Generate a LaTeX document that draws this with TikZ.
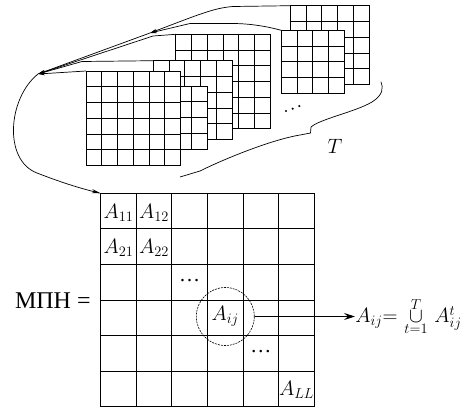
\documentclass[tikz,border=0pt]{standalone}
\usepackage{fontspec}
\setmainfont{Liberation Serif}
\usetikzlibrary{arrows.meta}
\newcommand\gridnode[6]{% name, x, y, cols, rows, cell size
  \node[gridbox, anchor=north west, minimum width={(#4)*(#6)*1pt}, minimum height={(#5)*(#6)*1pt}] (#1) at (#2,#3) {};
  \pgfmathtruncatemacro\gncols{#4-1}
  \pgfmathtruncatemacro\gnrows{#5-1}
  \foreach \k in {1,...,\gncols} \draw ([xshift={\k*(#6)*1pt}]#1.north west) -- ([xshift={\k*(#6)*1pt}]#1.south west);
  \foreach \k in {1,...,\gnrows} \draw ([yshift={-\k*(#6)*1pt}]#1.north west) -- ([yshift={-\k*(#6)*1pt}]#1.north east);
}
\begin{document}
\begin{tikzpicture}[x=1pt,y=-1pt, line width=0.9pt,
  gridbox/.style={draw, fill=white, inner sep=0pt, outer sep=0pt, rectangle},
  every node/.append style={font=\fontsize{21}{25}\selectfont},
  lab/.style={inner sep=0pt},
  smallarr/.style={-{Stealth[length=7pt,width=3.5pt]}, line width=0.7pt},
  bigarr/.style={-{Stealth[length=9pt,width=4pt]}, line width=0.7pt},
  outarr/.style={-{Stealth[length=11pt,width=7pt,inset=4pt]}, line width=0.8pt},
]
\useasboundingbox (0,0) rectangle (466,408);

% stacked grids, back to front
\gridnode{g5}{290.3}{5.7}{5}{5}{15.75}
\gridnode{g6}{281.3}{30.3}{4}{4}{15.75}
\gridnode{g4}{175.7}{34.3}{6}{6}{15.75}
\gridnode{g3}{153.3}{60.7}{5}{5}{15.75}
\gridnode{g2}{144}{86}{4}{4}{15.75}
\gridnode{g1}{86}{71}{6}{6}{15.75}

% dots and T
\fill (286,111) circle (1.2);
\fill (292.7,108.7) circle (1.2);
\fill (299.3,106) circle (1.2);
\node[lab] (tlab) at (335,146.7) {$T$};

% brace-like curve
\draw[line width=0.7pt] (381,81.7) .. controls (383.5,88) and (383,95) .. (372,102)
  .. controls (355,112) and (320,119) .. (311,127) -- (310.5,133) -- (300,135)
  .. controls (270,140) and (222,160) .. (200,171) -- (180,177);

% converging connectors
\coordinate (C) at (38,74);
\coordinate (M1) at (150,33);
\draw[smallarr] (g5.north west) -- (233,6.5) .. controls (214,8) and (200,14) .. (M1);
\draw[smallarr] (g6.north west) .. controls (265,26) and (248,23) .. (225,23.5) -- (190,23.5) -- (M1);
\draw[smallarr] (M1) -- (C);
\draw[smallarr] (g4.north west) -- (153,36) -- (C);
\draw[smallarr] (g3.north west) -- (82,61.5) -- (C);
\draw[smallarr] (g1.north west) -- (C);

% MPN matrix
\gridnode{mpn}{100.7}{193.3}{6}{6}{35.6}
\draw[bigarr] (C) .. controls (8,98) and (3,160) .. (37,173) .. controls (55,180) and (75,187) .. (mpn.north west);

\node[lab] (a11) at (118.5,212.5) {$A_{11}$};
\node[lab] (a12) at (154.1,212.5) {$A_{12}$};
\node[lab] (a21) at (118.5,248) {$A_{21}$};
\node[lab] (a22) at (154.1,248) {$A_{22}$};
\node[lab] (d1) at (189.7,281) {\ldots};
\node[lab] (d2) at (260.9,352) {\ldots};
\node[lab] (all) at (296.5,389.5) {$A_{LL}$};
\node[circle, draw, dash pattern=on 2pt off 1pt, line width=0.6pt, minimum size=58pt, inner sep=0pt] (circ) at (225.3,316.5) {$A_{ij}$};

\node[lab, anchor=east, font=\fontsize{24}{28}\selectfont] (mpnlab) at (91,300.5) {МПН =};

\node[lab, anchor=west, font=\fontsize{22}{26}\selectfont] (formula) at (355,316.5) {$A_{ij}{=}\,\mathop{\cup}\limits_{t=1}^{T}\,A^{t}_{ij}$};
\draw[outarr] (circ.east) -- (circ.east -| formula.west);
\end{tikzpicture}
\end{document}
